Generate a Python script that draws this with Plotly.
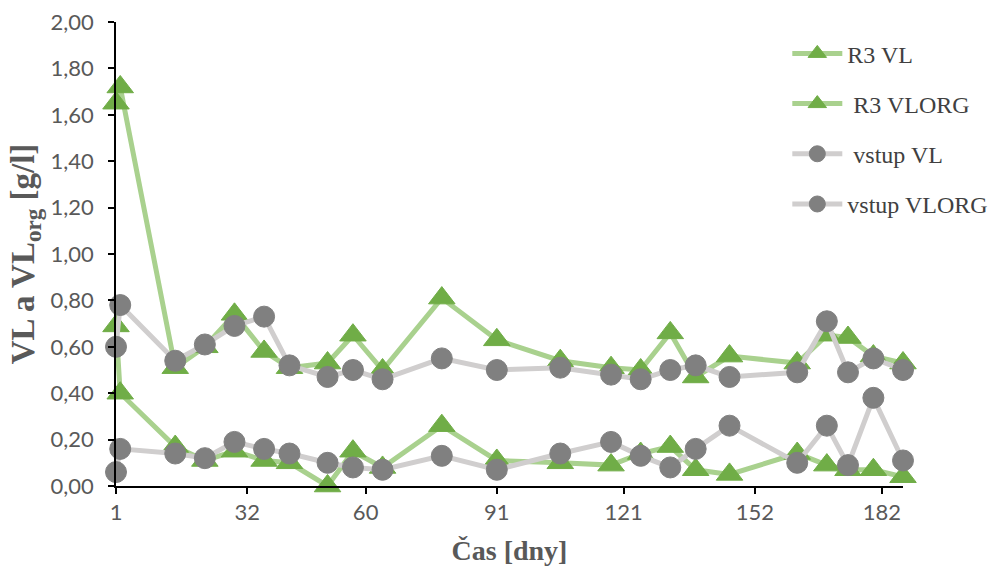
import plotly.graph_objects as go

days = [1, 2, 15, 22, 29, 36, 42, 51, 57, 64, 78, 91, 106, 118, 125, 132, 138, 146, 162, 169, 174, 180, 187]

r3_vl = [1.65, 1.72, 0.51, 0.60, 0.74, 0.58, 0.51, 0.53, 0.65, 0.50, 0.81, 0.63, 0.54,
         0.51, 0.50, 0.66, 0.47, 0.56, 0.53, 0.65, 0.64, 0.56, 0.53]
r3_vlorg = [0.69, 0.40, 0.17, 0.11, 0.15, 0.11, 0.10, 0.00, 0.15, 0.08, 0.26, 0.11, 0.10,
            0.09, 0.14, 0.17, 0.07, 0.05, 0.14, 0.09, 0.07, 0.07, 0.04]
vstup_vl = [0.60, 0.78, 0.54, 0.61, 0.69, 0.73, 0.52, 0.47, 0.50, 0.46, 0.55, 0.50, 0.51,
            0.48, 0.46, 0.50, 0.52, 0.47, 0.49, 0.71, 0.49, 0.55, 0.50]
vstup_vlorg = [0.06, 0.16, 0.14, 0.12, 0.19, 0.16, 0.14, 0.10, 0.08, 0.07, 0.13, 0.07, 0.14,
               0.19, 0.13, 0.08, 0.16, 0.26, 0.10, 0.26, 0.09, 0.38, 0.11]

x_ticks = [1, 32, 60, 91, 121, 152, 182]
y_ticks = [0.0, 0.2, 0.4, 0.6, 0.8, 1.0, 1.2, 1.4, 1.6, 1.8, 2.0]

series = [
    ("R3 VL", r3_vl, "triangle-up", "#70ad47", "#a9d18e"),
    ("\u00a0R3 VLORG", r3_vlorg, "triangle-up", "#70ad47", "#a9d18e"),
    ("\u00a0vstup VL", vstup_vl, "circle", "#808080", "#d0cece"),
    ("vstup VLORG", vstup_vlorg, "circle", "#808080", "#d0cece"),
]

fig = go.Figure()
for i, (name, vals, sym, mcol, lcol) in enumerate(series):
    fig.add_trace(go.Scatter(
        x=days, y=vals, name=name, mode="lines+markers",
        line=dict(color=lcol, width=5),
        marker=dict(symbol=sym, size=21 if sym == "circle" else 23, color=mcol,
                    line=dict(color=mcol, width=1)),
        legendgroup=f"g{i}",
        cliponaxis=False,
    ))

axis_font = dict(family="Lato, Liberation Sans, sans-serif", size=22, color="#595959")
title_font_x = dict(family="Liberation Serif, Times New Roman, serif", size=28, color="#595959")
title_font_y = dict(family="Liberation Serif, Times New Roman, serif", size=33, color="#595959")

fig.update_layout(
    width=993, height=570,
    margin=dict(l=116, r=90, t=22, b=84, autoexpand=False),
    paper_bgcolor="white", plot_bgcolor="white",
    separators=", ",
    showlegend=True,
    legend=dict(
        x=0.853, y=0.98, xanchor="left", yanchor="top",
        font=dict(family="Liberation Serif, Times New Roman, serif", size=24, color="#404040"),
        bgcolor="rgba(0,0,0,0)",
        traceorder="grouped", tracegroupgap=16,
        itemwidth=50,
    ),
    xaxis=dict(
        range=[1, 187], tickmode="array", tickvals=x_ticks,
        ticktext=[str(t) for t in x_ticks],
        showgrid=False, zeroline=False, automargin=False,
        showline=True, linecolor="black", linewidth=1.5,
        ticks="outside", ticklen=6, tickcolor="black", tickwidth=1.5,
        tickfont=axis_font,
        title=dict(text="<b>Čas [dny]</b>", standoff=16, font=title_font_x),
    ),
    yaxis=dict(
        range=[0, 2.0], tickmode="array", tickvals=y_ticks, tickformat=".2f",
        showgrid=False, zeroline=False, automargin=False,
        showline=True, linecolor="black", linewidth=1.5,
        ticks="outside", ticklen=6, tickcolor="black", tickwidth=1.5,
        tickfont=axis_font, ticklabelstandoff=10,
        title=dict(text="<b>VL a VL<sub>org</sub> [g/l]</b>", standoff=6, font=title_font_y),
    ),
)

fig.write_html("out.html", config={"displayModeBar": False},
               post_script="document.body.style.margin='0';")
